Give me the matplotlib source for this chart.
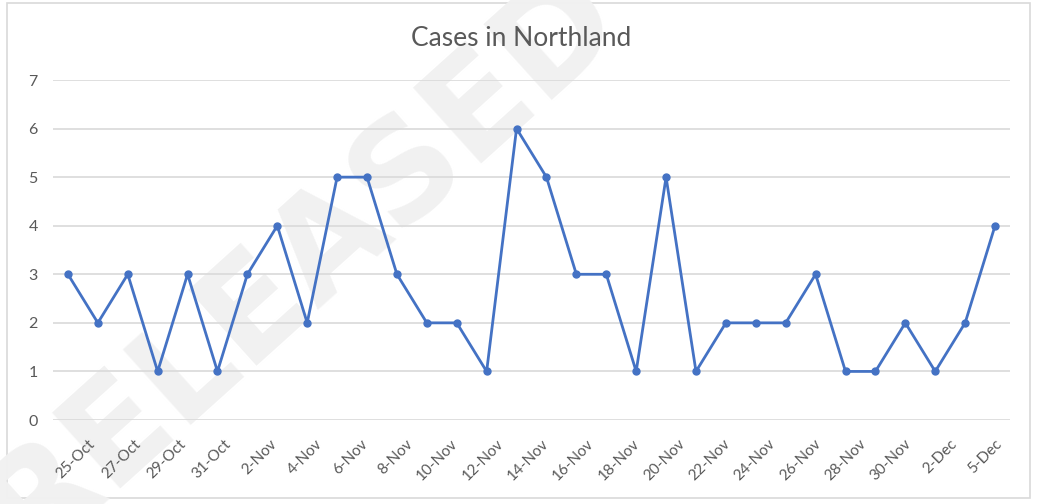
import numpy as np
import matplotlib
matplotlib.use("Agg")
import matplotlib.pyplot as plt
from matplotlib.patches import Rectangle

# daily cases, one point per report
cases = [3, 2, 3, 1, 3, 1, 3, 4, 2, 5, 5, 3, 2, 2, 1, 6,
         5, 3, 3, 1, 5, 1, 2, 2, 2, 3, 1, 1, 2, 1, 2, 4]
date_labels = ["25-Oct", "27-Oct", "29-Oct", "31-Oct", "2-Nov", "4-Nov", "6-Nov",
               "8-Nov", "10-Nov", "12-Nov", "14-Nov", "16-Nov", "18-Nov", "20-Nov",
               "22-Nov", "24-Nov", "26-Nov", "28-Nov", "30-Nov", "2-Dec", "5-Dec"]
y_ticks = [0, 1, 2, 3, 4, 5, 6, 7]

text_col = "#595959"
grid_col = "#d9d9d9"
line_col = "#4472c4"
font = "Lato"

fig = plt.figure(figsize=(10.41, 5.04), dpi=100)
fig.patch.set_facecolor("white")

# chart border
fig.add_artist(Rectangle((7 / 1041, 1 - 498 / 504), 1023 / 1041, 495 / 504,
                         transform=fig.transFigure, fill=False,
                         edgecolor=grid_col, linewidth=1.2, zorder=-2))

# watermark (behind everything)
fig.text(0.29, 0.48, "RELEASED", rotation=42, fontsize=100, fontweight="bold",
         color="#f1f1f1", ha="center", va="center", family="DejaVu Sans", zorder=-1)

ax = fig.add_axes([53 / 1041, 1 - 420 / 504, (1010 - 53) / 1041, 340 / 504])
ax.set_facecolor("none")
ax.set_zorder(1)

x = np.arange(len(cases))
ax.plot(x, cases, color=line_col, linewidth=2.0, marker="o", markersize=5, zorder=3)

ax.set_xlim(-0.5, len(cases) - 0.5)
ax.set_ylim(0, 7)
ax.set_yticks(y_ticks)
ax.grid(axis="y", color=grid_col, linewidth=1.2)
ax.set_axisbelow(True)
for s in ax.spines.values():
    s.set_visible(False)

tick_pos = np.linspace(0.67, 31.0, len(date_labels))
ax.set_xticks(tick_pos)
ax.set_xticklabels(date_labels, rotation=45, ha="right", rotation_mode="anchor",
                   fontsize=11, color=text_col, family=font)
ax.tick_params(axis="x", length=0, pad=12)
ax.tick_params(axis="y", length=0, pad=11, labelsize=11.5, labelcolor=text_col)
for t in ax.get_yticklabels():
    t.set_family(font)

fig.text(521 / 1041, 1 - 38 / 504, "Cases in Northland", ha="center", va="center",
         fontsize=19, color=text_col, family=font)

fig.savefig("out.png", dpi=100)
